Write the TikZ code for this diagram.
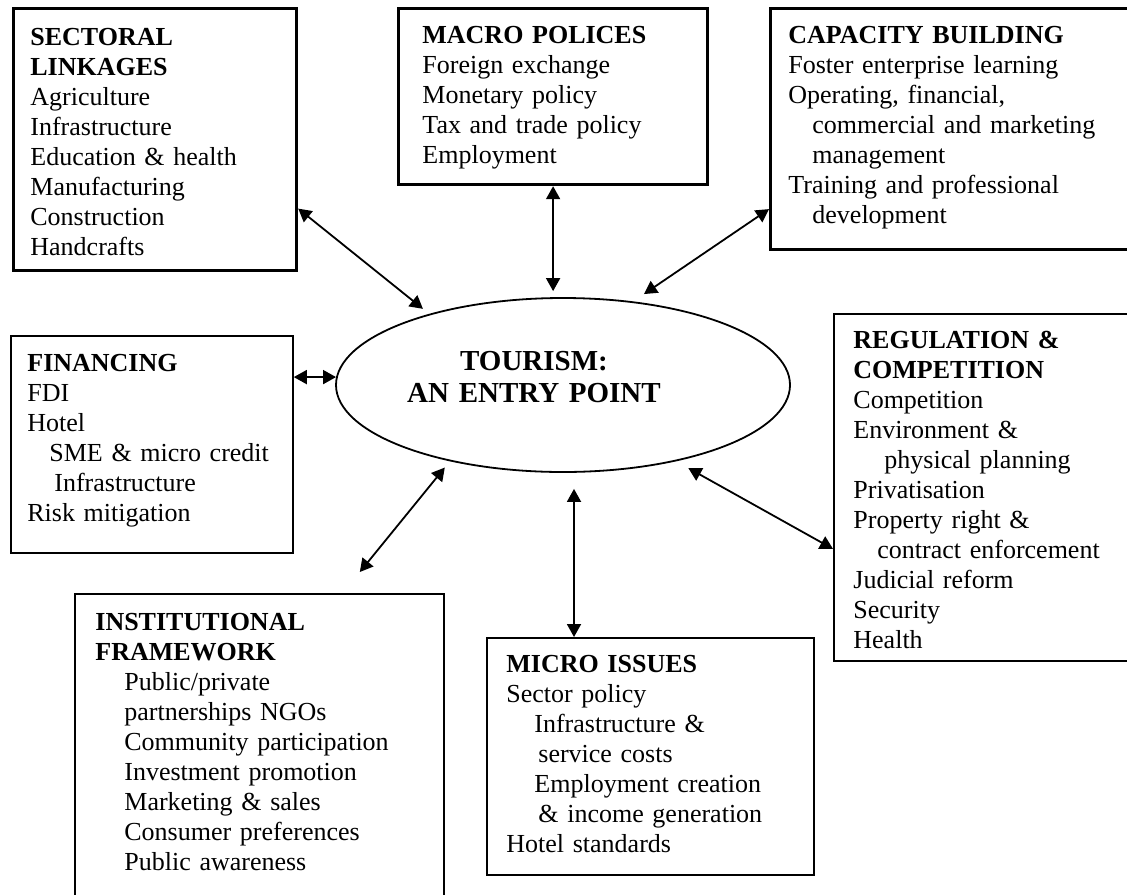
\documentclass[tikz,border=0pt]{standalone}
\usepackage{fontspec}
\setmainfont{Liberation Serif}
\usetikzlibrary{arrows.meta,shapes.geometric,calc}

\begin{document}
\begin{tikzpicture}[x=0.5pt,y=-0.5pt,
		thickbox/.style={rectangle,draw,line width=1.6pt,inner sep=0pt,anchor=north west},
		thinbox/.style={rectangle,draw,line width=0.9pt,inner sep=0pt,anchor=north west},
		txt/.style={anchor=base west,inner sep=0pt,text width=200pt,align=left,font=\fontsize{13}{15}\selectfont},
		hub/.style={ellipse,draw,line width=0.9pt,minimum width=227pt,minimum height=87pt,inner sep=0pt},
		hubtxt/.style={anchor=base,inner sep=0pt,text width=160pt,align=center,font=\fontsize{14.5}{16}\selectfont\bfseries},
		link/.style={{Triangle[length=6.5pt,width=7pt]}-{Triangle[length=6.5pt,width=7pt]},line width=0.9pt}]

		\useasboundingbox (0,0) rectangle (1127,894);

		\node[thickbox,minimum width=141.5pt,minimum height=131pt] (sect) at (12,7) {};
		\node[thickbox,minimum width=154.5pt,minimum height=88pt] (macro) at (397,7) {};
		\node[thickbox,minimum width=179pt,minimum height=120.5pt] (cap) at (769,7) {};
		\node[thinbox,minimum width=141pt,minimum height=108.5pt] (fin) at (10,335) {};
		\node[thinbox,minimum width=147pt,minimum height=173.5pt] (reg) at (833,313) {};
		\node[thinbox,minimum width=184.5pt,minimum height=152.5pt] (inst) at (74,593) {};
		\node[thinbox,minimum width=163.5pt,minimum height=118.5pt] (micro) at (486,637) {};

		\node[hub] (hub) at (563,385) {};
		\node[hubtxt] (hub-t) at (534,370) {TOURISM:\\AN ENTRY POINT};

		\node[txt] (sect-t) at (30,45) {\textbf{SECTORAL}\\\textbf{LINKAGES}\\Agriculture\\Infrastructure\\Education \& health\\Manufacturing\\Construction\\Handcrafts};
		\node[txt] (macro-t) at (422,43) {\textbf{MACRO POLICES}\\Foreign exchange\\Monetary policy\\Tax and trade policy\\Employment};
		\node[txt] (cap-t) at (788,43) {\textbf{CAPACITY BUILDING}\\Foster enterprise learning\\Operating, financial,\\\hspace*{12pt}commercial and marketing\\\hspace*{12pt}management\\Training and professional\\\hspace*{12pt}development};
		\node[txt] (fin-t) at (27,371) {\textbf{FINANCING}\\FDI\\Hotel\\\hspace*{11pt}SME \& micro credit\\\hspace*{13.5pt}Infrastructure\\Risk mitigation};
		\node[txt] (reg-t) at (853,348) {\textbf{REGULATION \&}\\\textbf{COMPETITION}\\Competition\\Environment \&\\\hspace*{15.5pt}physical planning\\Privatisation\\Property right \&\\\hspace*{12pt}contract enforcement\\Judicial reform\\Security\\Health};
		\node[txt] (inst-t) at (95,630) {\textbf{INSTITUTIONAL}\\\textbf{FRAMEWORK}\\\hspace*{14.5pt}Public/private\\\hspace*{14.5pt}partnerships NGOs\\\hspace*{14.5pt}Community participation\\\hspace*{14.5pt}Investment promotion\\\hspace*{14.5pt}Marketing \& sales\\\hspace*{14.5pt}Consumer preferences\\\hspace*{14.5pt}Public awareness};
		\node[txt] (micro-t) at (506,672) {\textbf{MICRO ISSUES}\\Sector policy\\\hspace*{14pt}Infrastructure \&\\\hspace*{16pt}service costs\\\hspace*{14pt}Employment creation\\\hspace*{16pt}\& income generation\\Hotel standards};

		\coordinate (inst-end) at ($(inst.north east)+(-85,-21)$);
		\coordinate (micro-end) at ($(micro.north west)+(88,0)$);

		\draw[link,shorten >=4pt] ($(sect.east)+(0,69)$) -- (hub.152);
		\draw[link,shorten >=3pt] (macro.south) -- (macro.south |- hub.north);
		\draw[link,shorten >=6.5pt] ($(cap.west)+(0,80)$) -- (hub.50);
		\draw[link] (fin.east |- hub.178) -- (hub.178);
		\draw[link,shorten <=4pt] (hub.214) -- (inst-end);
		\draw[link,shorten <=8pt] (micro-end |- hub.south) -- (micro-end);
		\draw[link,shorten <=7pt] (hub.326) -- ($(reg.west)+(0,61.5)$);
	\end{tikzpicture}
\end{document}
